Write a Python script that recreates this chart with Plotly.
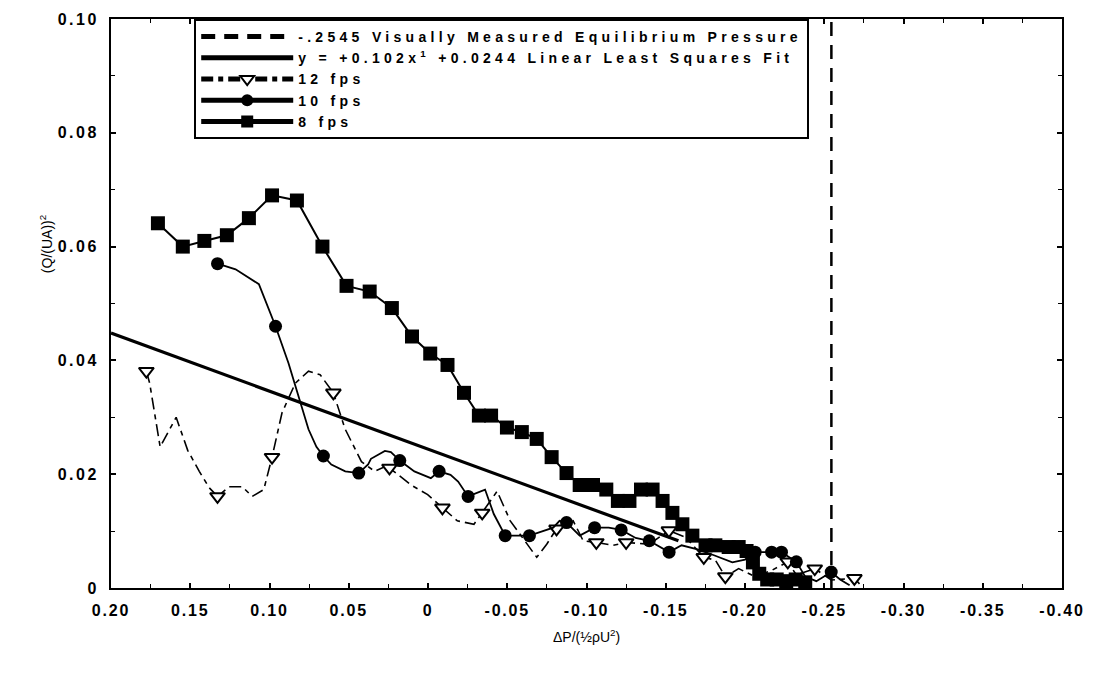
import plotly.graph_objects as go

# ---------------- data ----------------
# visually measured equilibrium pressure (vertical dashed line)
eq_x = [-0.2545, -0.2545]
eq_y = [0.0, 0.10]

# linear least squares fit (end points)
fit_x = [0.20, -0.158]
fit_y = [0.0448, 0.0083]

# 12 fps
x12 = [0.1777, 0.1756, 0.1690, 0.1589, 0.1516, 0.1443, 0.1380, 0.1328, 0.1255, 0.1172,
       0.1109, 0.1036, 0.0984, 0.0921, 0.0837, 0.0754, 0.0681, 0.0597, 0.0524, 0.0420,
       0.0336, 0.0274, 0.0243, 0.0107, 0.0002, -0.0091, -0.0185, -0.0290, -0.0342, -0.0436,
       -0.0519, -0.0686, -0.0749, -0.0811, -0.0916, -0.0979, -0.1062, -0.1166, -0.1250, -0.1396,
       -0.1520, -0.1626, -0.1740, -0.1813, -0.1876, -0.1960, -0.2064, -0.2168, -0.2270, -0.2324,
       -0.2440, -0.2544, -0.2690, -0.2730]
y12 = [0.0381, 0.0360, 0.0248, 0.0300, 0.0242, 0.0205, 0.0176, 0.0161, 0.0178, 0.0178,
       0.0161, 0.0173, 0.0230, 0.0308, 0.0360, 0.0381, 0.0375, 0.0343, 0.0280, 0.0222,
       0.0205, 0.0213, 0.0211, 0.0181, 0.0164, 0.0141, 0.0118, 0.0112, 0.0132, 0.0170,
       0.0118, 0.0054, 0.0077, 0.0104, 0.0118, 0.0083, 0.0080, 0.0075, 0.0080, 0.0077,
       0.0101, 0.0089, 0.0054, 0.0049, 0.0020, 0.0034, 0.0020, 0.0031, 0.0046, 0.0023,
       0.0034, 0.0014, 0.0017, 0.0005]
marked12 = [0, 7, 12, 17, 22, 25, 28, 33, 36, 38, 40, 42, 44, 48, 50, 52]

# 10 fps
x10 = [0.1328, 0.1214, 0.1067, 0.0962, 0.0880, 0.0754, 0.0704, 0.0660, 0.0610, 0.0522,
       0.0437, 0.0378, 0.0360, 0.0272, 0.0234, 0.0178, 0.0086, -0.0018, -0.0070, -0.0142,
       -0.0190, -0.0253, -0.0360, -0.0415, -0.0487, -0.0640, -0.0790, -0.0830, -0.0874, -0.0957,
       -0.1051, -0.1140, -0.1219, -0.1310, -0.1396, -0.1521, -0.1600, -0.1700, -0.1800, -0.1920,
       -0.2000, -0.2064, -0.2168, -0.2230, -0.2324, -0.2380, -0.2450, -0.2544, -0.2600, -0.2660]
y10 = [0.0570, 0.0560, 0.0534, 0.0460, 0.0395, 0.0279, 0.0248, 0.0232, 0.0217, 0.0205,
       0.0202, 0.0217, 0.0227, 0.0241, 0.0239, 0.0224, 0.0205, 0.0193, 0.0205, 0.0199,
       0.0187, 0.0161, 0.0173, 0.0130, 0.0092, 0.0092, 0.0106, 0.0118, 0.0115, 0.0092,
       0.0106, 0.0106, 0.0102, 0.0088, 0.0083, 0.0063, 0.0075, 0.0068, 0.0058, 0.0045,
       0.0050, 0.0063, 0.0063, 0.0063, 0.0046, 0.0020, 0.0012, 0.0028, 0.0015, 0.0005]
marked10 = [0, 3, 7, 10, 15, 18, 21, 24, 25, 28, 30, 32, 34, 35, 41, 42, 43, 44, 47]

# 8 fps
x8 = [0.1704, 0.1547, 0.1411, 0.1269, 0.1130, 0.0984, 0.0827, 0.0666, 0.0514, 0.0368,
      0.0228, 0.0101, -0.0014, -0.0123, -0.0227, -0.0321, -0.0398, -0.0498, -0.0592, -0.0686,
      -0.0780, -0.0874, -0.0957, -0.1041, -0.1125, -0.1198, -0.1271, -0.1344, -0.1417, -0.1480,
      -0.1542, -0.1605, -0.1668, -0.1751, -0.1813, -0.1897, -0.1960, -0.2010, -0.2050, -0.2090,
      -0.2140, -0.2200, -0.2260, -0.2320, -0.2380]
y8 = [0.0641, 0.0600, 0.0610, 0.0620, 0.0650, 0.0690, 0.0681, 0.0600, 0.0531, 0.0521,
      0.0492, 0.0442, 0.0412, 0.0392, 0.0343, 0.0303, 0.0303, 0.0282, 0.0274, 0.0262,
      0.0230, 0.0202, 0.0181, 0.0181, 0.0173, 0.0153, 0.0153, 0.0173, 0.0173, 0.0153,
      0.0132, 0.0112, 0.0092, 0.0075, 0.0075, 0.0072, 0.0072, 0.0065, 0.0045, 0.0025,
      0.0015, 0.0015, 0.0012, 0.0015, 0.0010]

x_tickvals = [0.20, 0.15, 0.10, 0.05, 0.0, -0.05, -0.10, -0.15, -0.20, -0.25, -0.30, -0.35, -0.40]
x_ticktext = ["0.20", "0.15", "0.10", "0.05", "0", "-0.05", "-0.10", "-0.15", "-0.20",
              "-0.25", "-0.30", "-0.35", "-0.40"]
y_tickvals = [0.0, 0.02, 0.04, 0.06, 0.08, 0.10]
y_ticktext = ["0", "0.02", "0.04", "0.06", "0.08", "0.10"]

names = ["-.2545 Visually Measured Equilibrium Pressure",
         "y = +0.102x<sup>1</sup> +0.0244 Linear Least Squares Fit",
         "12 fps", "10 fps", "8 fps"]

# ---------------- figure ----------------
FONT = "Liberation Sans, Arial, sans-serif"
BLACK = "black"
CLEAR = "rgba(0,0,0,0)"
LEG_SP = 4.3


def spaced(txt, px):
    return '<span style="letter-spacing:%spx">%s</span>' % (px, txt)


def sel(n, marked, on, off):
    return [on if i in marked else off for i in range(n)]


fig = go.Figure()

fig.add_trace(go.Scatter(x=eq_x, y=eq_y, mode="lines", name=spaced(names[0], LEG_SP),
                         line=dict(color=BLACK, width=2.5, dash="14px,9px")))
fig.add_trace(go.Scatter(x=fit_x, y=fit_y, mode="lines", name=spaced(names[1], LEG_SP),
                         line=dict(color=BLACK, width=3.2)))

n12 = len(x12)
fig.add_trace(go.Scatter(
    x=x12, y=y12, mode="lines+markers", name=spaced(names[2], LEG_SP),
    line=dict(color=BLACK, width=1.6, dash="12px,5px,5px,5px"),
    marker=dict(symbol="triangle-down", size=sel(n12, marked12, 13, 0), opacity=1,
                color=sel(n12, marked12, "white", CLEAR),
                line=dict(width=2, color=sel(n12, marked12, BLACK, CLEAR)))))

n10 = len(x10)
fig.add_trace(go.Scatter(
    x=x10, y=y10, mode="lines+markers", name=spaced(names[3], LEG_SP),
    line=dict(color=BLACK, width=1.8),
    marker=dict(symbol="circle", size=sel(n10, marked10, 13, 0), opacity=1,
                color=sel(n10, marked10, BLACK, CLEAR),
                line=dict(width=0, color=BLACK))))

fig.add_trace(go.Scatter(
    x=x8, y=y8, mode="lines+markers", name=spaced(names[4], LEG_SP),
    line=dict(color=BLACK, width=2),
    marker=dict(symbol="square", size=14, color=BLACK, opacity=1, line=dict(width=0))))

axis_common = dict(
    showline=True, linecolor=BLACK, linewidth=2, mirror="ticks",
    ticks="inside", ticklen=5, tickwidth=1.5, tickcolor=BLACK,
    showgrid=False, zeroline=False,
    tickfont=dict(family=FONT, size=16, color=BLACK, weight="bold"),
    ticklabelstandoff=7,
)

fig.update_xaxes(range=[0.20, -0.40], tickmode="array", tickvals=x_tickvals,
                 ticktext=[spaced(t, 1.8) for t in x_ticktext],
                 minor=dict(ticks="inside", ticklen=4, tickwidth=1, tickcolor=BLACK,
                            tickmode="linear", tick0=0, dtick=0.025, showgrid=False),
                 **axis_common)
fig.update_yaxes(range=[0, 0.10], tickmode="array", tickvals=y_tickvals,
                 ticktext=[spaced(t, 2.5) for t in y_ticktext],
                 minor=dict(ticks="inside", ticklen=4, tickwidth=1, tickcolor=BLACK,
                            tickmode="linear", tick0=0, dtick=0.01, showgrid=False),
                 **axis_common)

fig.update_layout(
    width=1096, height=677,
    margin=dict(l=111, r=25, t=11, b=89),
    paper_bgcolor="white", plot_bgcolor="white",
    font=dict(family=FONT, color=BLACK),
    showlegend=True,
    legend=dict(x=0.0875, y=1.0, xanchor="left", yanchor="top",
                bgcolor="white", bordercolor=BLACK, borderwidth=2,
                font=dict(family=FONT, size=14, color=BLACK, weight="bold"),
                itemsizing="constant", itemwidth=92, tracegroupgap=0,
                traceorder="normal"),
    annotations=[
        dict(text="\u0394P/(\u00bd\u03c1U<sup>2</sup>)", xref="paper", yref="paper",
             x=0.5, y=-0.085, xanchor="center", yanchor="middle", showarrow=False,
             font=dict(family=FONT, size=14, color=BLACK)),
        dict(text="(Q/(UA))<sup>2</sup>", xref="paper", yref="paper",
             x=-0.069, y=0.605, xanchor="center", yanchor="middle", showarrow=False,
             textangle=-90, font=dict(family=FONT, size=14, color=BLACK)),
    ],
)

fig.write_html("out.html")
